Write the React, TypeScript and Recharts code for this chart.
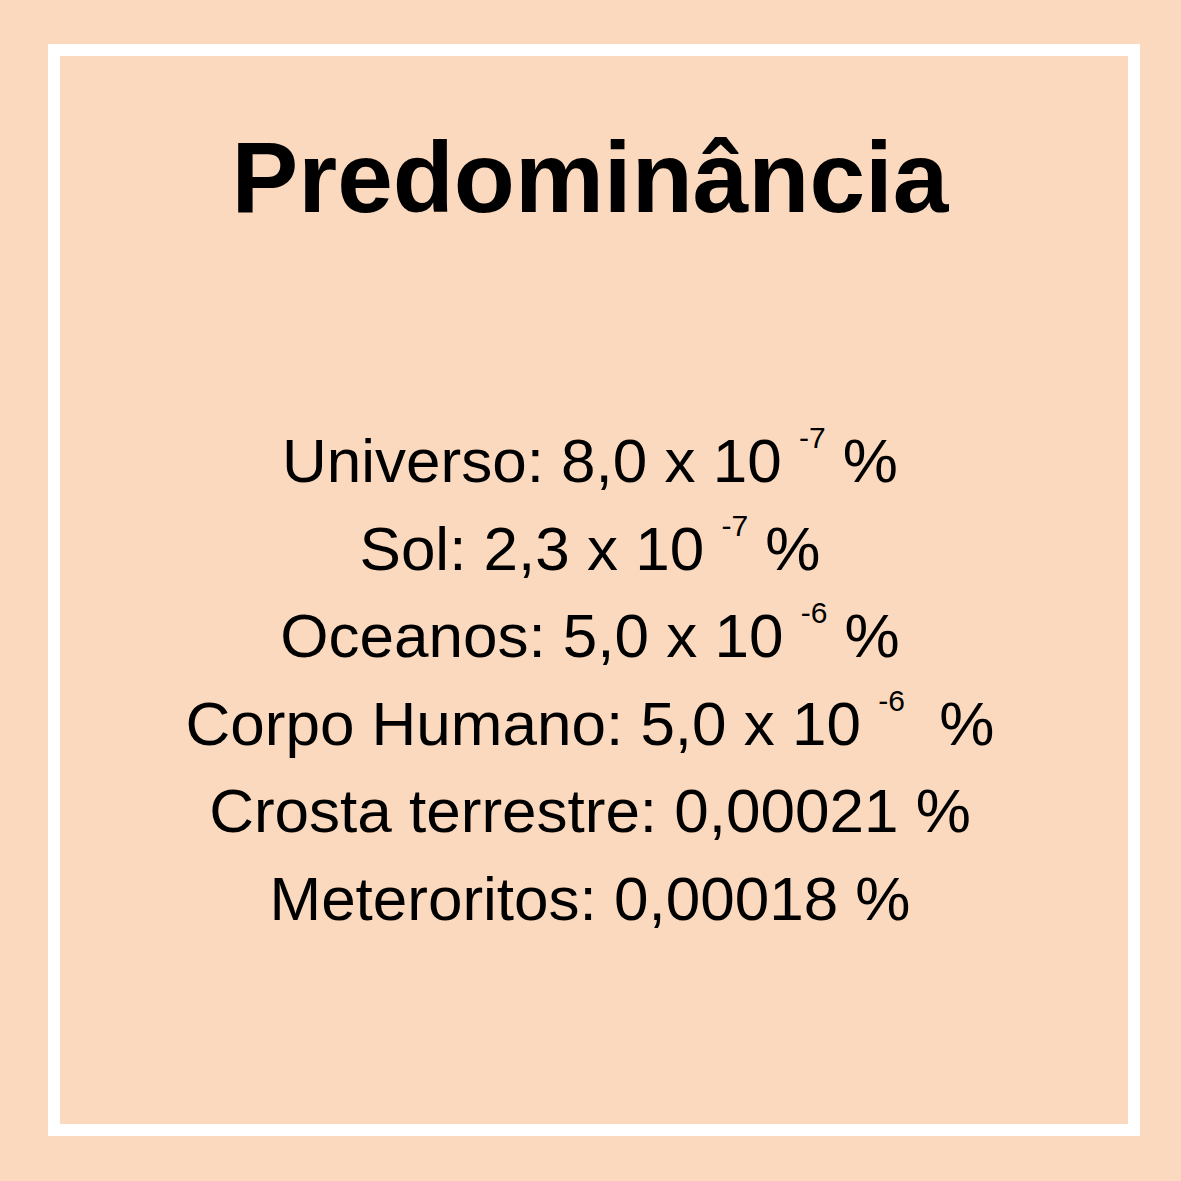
import React from "react";
import { Surface } from "recharts";

const title = "Predominância";
const places = ["Universo", "Sol", "Oceanos", "Corpo Humano", "Crosta terrestre", "Meteroritos"];
const values = ["8,0 x 10", "2,3 x 10", "5,0 x 10", "5,0 x 10", "0,00021", "0,00018"];
const exponents = ["-7", "-7", "-6", "-6", "", ""];

export default function App() {
  return (
    <div style={{ position: "absolute", left: 0, top: 0, width: 1181, height: 1181 }}>
      <Surface width={1181} height={1181} viewBox={{ x: 0, y: 0, width: 1181, height: 1181 }}>
        <rect x={0} y={0} width={1181} height={1181} fill="#FBD9BF" />
        <rect x={54} y={50} width={1080} height={1080} fill="none" stroke="#FFFFFF" strokeWidth={12} />
        <text x={590} y={212} textAnchor="middle" fontFamily="Liberation Sans, Arial, sans-serif" fontWeight="bold" fontSize={100} fill="#000">
          {title}
        </text>
        {places.map((p, i) => (
          <text key={p} x={590} y={482 + i * 87.6} textAnchor="middle" fontFamily="Liberation Sans, Arial, sans-serif" fontSize={62} fill="#000">
            {exponents[i] ? (
              <>
                <tspan>{`${p}: ${values[i]} `}</tspan>
                <tspan fontSize={30} dy={-34}>{exponents[i]}</tspan>
                <tspan dy={34}>{i === 3 ? "\u00A0 %" : " %"}</tspan>
              </>
            ) : (
              <tspan>{`${p}: ${values[i]} %`}</tspan>
            )}
          </text>
        ))}
      </Surface>
    </div>
  );
}
